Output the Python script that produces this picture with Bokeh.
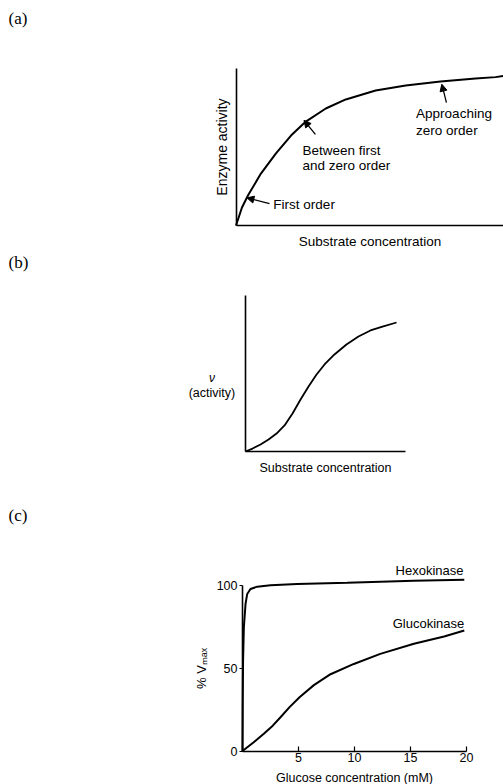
from bokeh.plotting import figure
from bokeh.layouts import column
from bokeh.models import Label, Arrow, NormalHead, FixedTicker
from bokeh.embed import file_html
from bokeh.resources import INLINE

# ---------------- data ----------------
# (a) Michaelis-Menten type curve (arbitrary units)
a_substrate = [0, 0.23, 0.46, 0.96, 1.54, 2.12, 2.69, 3.46, 4.23, 5.38, 6.54, 7.88, 9.23, 10.0, 10.3]
a_activity = [0, 11.5, 19.1, 33.1, 45.9, 57.3, 66.2, 74.5, 80.3, 86.0, 89.2, 91.7, 93.6, 94.5, 95.2]

# (b) sigmoidal curve (arbitrary units)
b_substrate = [0, 0.44, 0.94, 1.44, 1.94, 2.44, 2.94, 3.44, 3.94, 4.44, 4.94, 5.56, 6.31, 7.06, 7.81, 8.56, 9.44]
b_activity = [0, 0.19, 0.45, 0.77, 1.15, 1.67, 2.44, 3.33, 4.17, 4.94, 5.58, 6.22, 6.86, 7.37, 7.76, 8.01, 8.27]

# (c) hexokinase vs glucokinase
hk_glucose = [0, 0.02, 0.05, 0.12, 0.27, 0.42, 0.71, 1.31, 2.5, 4.88, 9.35, 15.3, 19.8]
hk_vmax = [0, 30, 55, 74.8, 88.9, 94.9, 97.9, 99.3, 100.1, 100.9, 101.7, 102.9, 103.5]
gk_glucose = [0, 1.0, 1.9, 2.7, 3.39, 4.2, 5.09, 6.37, 7.86, 9.94, 12.3, 15.3, 18.0, 19.8]
gk_vmax = [0, 5.3, 10.4, 15.3, 20.4, 26.5, 32.5, 39.8, 46.4, 52.6, 58.7, 64.8, 69.2, 72.8]

c_xticks = [0, 5, 10, 15, 20]
c_yticks = [0, 50, 100]

SANS = "Liberation Sans"
SERIF = "Liberation Serif"
W = 503


def base(h, xr, yr):
    p = figure(width=W, height=h, x_range=xr, y_range=yr, output_backend="svg",
               toolbar_location=None, title=None,
               min_border_left=0, min_border_right=0,
               min_border_top=0, min_border_bottom=0)
    p.grid.visible = False
    p.outline_line_color = None
    p.background_fill_color = "white"
    p.border_fill_color = "white"
    for ax in p.axis:
        ax.fixed_location = 0
        ax.axis_line_color = "black"
        ax.axis_line_width = 1.6
        ax.minor_tick_line_color = None
        ax.axis_label_text_font = SANS
        ax.axis_label_text_font_style = "normal"
        ax.axis_label_text_color = "black"
        ax.major_label_text_font = SANS
        ax.major_label_text_color = "black"
    return p


def bare_axes(p):
    for ax in p.axis:
        ax.ticker = FixedTicker(ticks=[])
        ax.major_tick_out = 0
        ax.major_tick_in = 0
        ax.major_label_standoff = 0


def lab(p, x, y, text, size, font=SANS, align="left", style="normal"):
    p.add_layout(Label(x=x, y=y, text=text, text_font=font, text_font_size=size,
                       text_align=align, text_baseline="middle", text_color="black",
                       text_font_style=style))


def arrow(p, xs, ys, xe, ye):
    p.add_layout(Arrow(end=NormalHead(size=7, fill_color="black", line_color="black", line_width=1),
                       x_start=xs, y_start=ys, x_end=xe, y_end=ye,
                       line_color="black", line_width=1.3))


# ---------------- (a) ----------------
pa = base(250, (-9.075, 10.308), (-15.92, 143.3))
bare_axes(pa)
pa.xaxis.bounds = (0, 10.308)
pa.yaxis.bounds = (0, 100)
pa.xaxis.axis_label = "Substrate concentration"
pa.yaxis.axis_label = "Enzyme activity"
pa.xaxis.axis_label_text_font_size = "13.5px"
pa.yaxis.axis_label_text_font_size = "14px"
pa.xaxis.axis_label_standoff = 8
pa.yaxis.axis_label_standoff = 7
pa.line(a_substrate, a_activity, line_color="black", line_width=2)
lab(pa, -8.767, 131.8, "(a)", "17px", font=SERIF)
lab(pa, 1.44, 13.4, "First order", "13.5px")
arrow(pa, 1.29, 14.0, 0.42, 17.6)
lab(pa, 2.56, 47.8, "Between first", "13.5px")
lab(pa, 2.56, 38.2, "and zero order", "13.5px")
arrow(pa, 3.06, 58.0, 2.62, 67.0)
lab(pa, 6.94, 71.3, "Approaching", "13.5px")
lab(pa, 6.94, 60.5, "zero order", "13.5px")
arrow(pa, 8.11, 78.3, 7.93, 90.0)

# ---------------- (b) ----------------
pb = base(255, (-15.3125, 16.125), (-3.46, 12.885))
bare_axes(pb)
pb.xaxis.bounds = (0, 10)
pb.yaxis.bounds = (0, 10)
pb.xaxis.axis_label = "Substrate concentration"
pb.xaxis.axis_label_text_font_size = "12.5px"
pb.xaxis.axis_label_standoff = 9
pb.line(b_substrate, b_activity, line_color="black", line_width=1.8)
lab(pb, -14.81, 12.12, "(b)", "17px", font=SERIF)
lab(pb, -2.1, 4.74, "\u03bd", "12px", align="center", style="italic")
lab(pb, -2.1, 3.78, "(activity)", "12.5px", align="center")

# ---------------- (c) ----------------
pc = base(279, (-21.607, 23.30), (-20.24, 148.34))
pc.line(hk_glucose, hk_vmax, line_color="black", line_width=2)
pc.line(gk_glucose, gk_vmax, line_color="black", line_width=2)
xa = pc.xaxis[0]
xa.ticker = FixedTicker(ticks=c_xticks)
xa.major_label_overrides = {0: ""}
xa.bounds = (0, 20)
xa.major_tick_in = 5
xa.major_tick_out = 0
xa.major_tick_line_width = 1.2
xa.major_label_standoff = 2
xa.major_label_text_font_size = "12.5px"
xa.axis_label = "Glucose concentration (mM)"
xa.axis_label_text_font_size = "12.5px"
xa.axis_label_standoff = 5
ya = pc.yaxis[0]
ya.ticker = FixedTicker(ticks=c_yticks)
ya.bounds = (0, 100)
ya.major_tick_in = 0
ya.major_tick_out = 3
ya.major_tick_line_width = 1.2
ya.major_label_standoff = 2
ya.major_label_text_font_size = "12.5px"
ya.axis_label = "% V\u2098\u2090\u2093"
ya.axis_label_text_font_size = "13px"
ya.axis_label_standoff = 5
lab(pc, -20.89, 142.3, "(c)", "17px", font=SERIF)
lab(pc, 19.73, 109.0, "Hexokinase", "13px", align="right")
lab(pc, 19.8, 77.0, "Glucokinase", "13px", align="right")

layout = column(pa, pb, pc)
open("out.html", "w").write(file_html(layout, INLINE))
